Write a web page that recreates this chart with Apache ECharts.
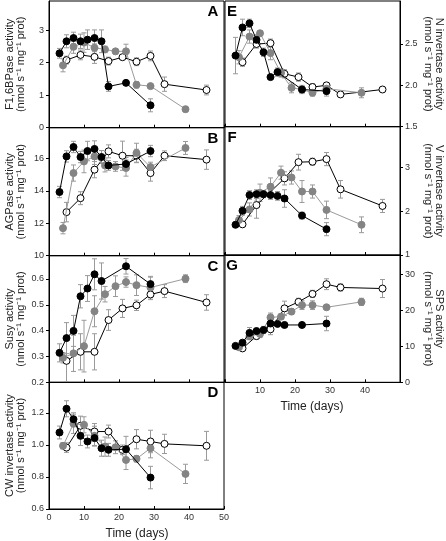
<!DOCTYPE html>
<html><head><meta charset="utf-8">
<script src="https://cdn.jsdelivr.net/npm/echarts@6/dist/echarts.min.js"></script>
<style>html,body{margin:0;padding:0;background:#fff}#c{width:446px;height:541px}</style>
</head><body><div id="c"></div>
<script>
// ---- sampling days ----
const daysBlack = [3, 5, 7, 9, 11, 13, 15, 17, 22, 29];
const daysBlackNo17 = [3, 5, 7, 9, 11, 13, 15, 22, 29];
const daysGray = [4, 7, 10, 13, 16, 19, 22, 25, 29, 39];
const daysWhite = [5, 9, 13, 17, 21, 25, 29, 33, 45];
const daysWhiteF = [5, 9, 17, 21, 25, 29, 33, 45];
// ---- axis ticks / tick labels ----
const xTicks = [0, 10, 20, 30, 40, 50];
const xLabelsBottomLeft = [0, 10, 20, 30, 40, 50];
const xLabelsBottomRight = [10, 20, 30, 40];
const aTicks = [0, 1, 2, 3];
const bTicks = [10, 12, 14, 16];
const cTicks = [0.2, 0.3, 0.4, 0.5, 0.6];
const dTicks = [0.6, 0.8, 1.0, 1.2];
const eTicks = [1.5, 2.0, 2.5];
const fTicks = [1, 2, 3];
const gTicks = [0, 10, 20, 30];

// ---- A: F1,6BPase ----
const aBlack = [2.29, 2.66, 2.76, 2.66, 2.71, 2.76, 2.66, 1.27, 1.38, 0.69];
const aBlackErr = [0.15, 0.2, 0.18, 0.22, 0.3, 0.25, 0.35, 0.15, 0.03, 0.2];
const aGray = [1.92, 2.49, 2.62, 2.46, 2.41, 2.35, 2.35, 1.32, 1.28, 0.57];
const aGrayErr = [0.2, 0.2, 0.3, 0.12, 0.1, 0.08, 0.22, 0.1, 0.05, 0.08];
const aWhite = [2.08, 2.24, 2.18, 2.05, 2.17, 2.03, 2.21, 1.34, 1.16];
const aWhiteErr = [0.12, 0.15, 0.2, 0.12, 0.05, 0.12, 0.15, 0.22, 0.15];
// ---- B: AGPase ----
const bBlack = [13.93, 16.13, 16.71, 16.09, 16.46, 16.59, 16.09, 15.57, 15.66, 16.46];
const bBlackErr = [0.35, 0.35, 0.35, 0.35, 0.6, 0.5, 0.4, 0.3, 0.4, 0.35];
const bGray = [11.70, 15.10, 15.82, 16.13, 15.57, 15.51, 15.41, 16.34, 15.47, 16.65];
const bGrayErr = [0.35, 0.5, 0.7, 0.5, 0.4, 0.3, 0.5, 0.6, 0.3, 0.4];
const bWhite = [12.69, 13.55, 15.31, 16.44, 16.17, 16.17, 15.10, 16.17, 15.93];
const bWhiteErr = [0.6, 0.4, 0.5, 0.4, 0.9, 0.4, 0.5, 0.3, 0.6];
// ---- C: Susy ----
const cBlack = [0.314, 0.371, 0.399, 0.533, 0.563, 0.618, 0.592, 0.649, 0.580];
const cBlackErr = [0.035, 0.06, 0.06, 0.045, 0.05, 0.06, 0.07, 0.03, 0.03];
const cGray = [0.295, 0.312, 0.340, 0.475, 0.541, 0.572, 0.588, 0.576, 0.567, 0.601];
const cGrayErr = [0.02, 0.07, 0.1, 0.06, 0.03, 0.04, 0.02, 0.04, 0.04, 0.015];
const cWhite = [0.283, 0.318, 0.318, 0.441, 0.486, 0.498, 0.540, 0.553, 0.509];
const cWhiteErr = [0.08, 0.07, 0.07, 0.04, 0.035, 0.02, 0.02, 0.025, 0.03];
// ---- D: CW invertase ----
const dBlack = [1.077, 1.225, 1.160, 1.056, 1.021, 1.042, 0.979, 0.969, 0.973, 0.796];
const dBlackErr = [0.04, 0.05, 0.04, 0.06, 0.04, 0.05, 0.05, 0.04, 0.08, 0.07];
const dGray = [0.994, 1.131, 1.125, 1.056, 0.989, 0.985, 0.906, 0.913, 0.979, 0.819];
const dGrayErr = [0.02, 0.06, 0.05, 0.06, 0.06, 0.04, 0.06, 0.02, 0.06, 0.06];
const dWhite = [0.983, 1.119, 1.083, 1.083, 0.969, 1.035, 1.021, 1.006, 0.994];
const dWhiteErr = [0.03, 0.06, 0.05, 0.04, 0.03, 0.06, 0.07, 0.06, 0.09];
// ---- E: N invertase ----
const eBlack = [2.36, 2.70, 2.75, 2.55, 2.40, 2.10, 2.16, 1.95, 1.93];
const eBlackErr = [0.22, 0.1, 0.05, 0.05, 0.05, 0.03, 0.05, 0.04, 0.06];
const eGray = [2.34, 2.59, 2.63, 2.39, 2.15, 1.97, 1.95, 1.91, 1.96, 1.91];
const eGrayErr = [0.08, 0.08, 0.03, 0.08, 0.05, 0.06, 0.05, 0.04, 0.04, 0.06];
const eWhite = [2.28, 2.50, 2.51, 2.14, 2.10, 1.98, 2.00, 1.89, 1.95];
const eWhiteErr = [0.05, 0.05, 0.05, 0.05, 0.05, 0.04, 0.03, 0.02, 0.02];
// ---- F: V invertase ----
const fBlack = [1.69, 2.01, 2.37, 2.39, 2.39, 2.37, 2.35, 2.29, 1.90, 1.59];
const fBlackErr = [0.06, 0.1, 0.1, 0.1, 0.08, 0.1, 0.1, 0.2, 0.08, 0.15];
const fGray = [1.80, 2.04, 2.42, 2.56, 2.88, 2.77, 2.45, 2.45, 2.03, 1.69];
const fGrayErr = [0.1, 0.15, 0.2, 0.2, 0.15, 0.15, 0.25, 0.15, 0.2, 0.18];
const fWhite = [1.70, 2.14, 2.75, 3.12, 3.13, 3.19, 2.50, 2.12];
const fWhiteErr = [0.05, 0.3, 0.15, 0.18, 0.08, 0.15, 0.2, 0.15];
// ---- G: SPS ----
const gBlack = [10.1, 11.0, 13.7, 14.2, 14.5, 16.3, 16.2, 15.9, 15.9, 16.3];
const gBlackErr = [0.3, 0.5, 1.5, 0.8, 1.0, 0.8, 0.5, 0.5, 0.5, 2.0];
const gGray = [9.7, 12.8, 13.4, 18.0, 18.2, 19.6, 21.4, 21.4, 20.8, 22.3];
const gGrayErr = [0.5, 1.0, 1.0, 1.2, 0.8, 0.8, 1.2, 1.2, 0.6, 1.0];
const gWhite = [9.4, 12.8, 14.7, 20.5, 22.3, 24.5, 27.2, 26.3, 26.0];
const gWhiteErr = [0.5, 0.8, 1.5, 2.0, 1.0, 1.0, 1.5, 1.0, 2.5];

// ---- layout ----
const L = 49, R = 225, W = 175;
const panels = [
  {k:'A', g:{left:L, top:1, height:126.7}, side:'left', y:[0, 3.9], ticks:aTicks, dec:0, xl:null,
   s:[[daysBlack,aBlack,aBlackErr],[daysGray,aGray,aGrayErr],[daysWhite,aWhite,aWhiteErr]],
   t1:'F1,6BPase activity'},
  {k:'B', g:{left:L, top:127.7, height:128}, side:'left', y:[10, 17.9], ticks:bTicks, dec:0, xl:null,
   s:[[daysBlack,bBlack,bBlackErr],[daysGray,bGray,bGrayErr],[daysWhite,bWhite,bWhiteErr]],
   t1:'AGPase activity'},
  {k:'C', g:{left:L, top:255.7, height:126.6}, side:'left', y:[0.2, 0.69], ticks:cTicks, dec:1, xl:null,
   s:[[daysBlackNo17,cBlack,cBlackErr],[daysGray,cGray,cGrayErr],[daysWhite,cWhite,cWhiteErr]],
   t1:'Susy activity'},
  {k:'D', g:{left:L, top:382.3, height:126.7}, side:'left', y:[0.6, 1.39], ticks:dTicks, dec:1, xl:xLabelsBottomLeft,
   s:[[daysBlack,dBlack,dBlackErr],[daysGray,dGray,dGrayErr],[daysWhite,dWhite,dWhiteErr]],
   t1:'CW invertase activity'},
  {k:'E', g:{left:R, top:1, height:125.7}, side:'right', y:[1.5, 3.02], ticks:eTicks, dec:1, xl:null,
   s:[[daysBlackNo17,eBlack,eBlackErr],[daysGray,eGray,eGrayErr],[daysWhite,eWhite,eWhiteErr]],
   t1:'N invertase activity'},
  {k:'F', g:{left:R, top:126.7, height:128.3}, side:'right', y:[1, 3.93], ticks:fTicks, dec:0, xl:null,
   s:[[daysBlack,fBlack,fBlackErr],[daysGray,fGray,fGrayErr],[daysWhiteF,fWhite,fWhiteErr]],
   t1:'V invertase activity'},
  {k:'G', g:{left:R, top:255, height:127.3}, side:'right', y:[0, 35.3], ticks:gTicks, dec:0, xl:xLabelsBottomRight,
   s:[[daysBlack,gBlack,gBlackErr],[daysGray,gGray,gGrayErr],[daysWhite,gWhite,gWhiteErr]],
   t1:'SPS activity'}
];
const unitText = '(nmol s\u207B\u00B9 mg\u207B\u00B9 prot)';
const FONT = 'Liberation Sans, Arial, sans-serif';
const GRAY = '#848484';
const styles = [
  {color:'#000', border:'#000', line:'#000'},
  {color:GRAY, border:GRAY, line:'#9a9a9a'},
  {color:'#fff', border:'#000', line:'#000'}
];

const grids = [], xAxes = [], yAxes = [], series = [], graphics = [];
panels.forEach((p, i) => {
  grids.push({left:p.g.left, top:p.g.top, width:W, height:p.g.height, show:true,
    borderColor:'#000', borderWidth:1, containLabel:false, outerBoundsMode:'none'});
  xAxes.push({gridIndex:i, type:'value', min:xTicks[0], max:xTicks[xTicks.length-1],
    axisLine:{show:true, onZero:false, lineStyle:{color:'#000', width:1}},
    axisTick:{show:true, inside:true, length:3, customValues:xTicks, lineStyle:{color:'#000'}},
    splitLine:{show:false},
    axisLabel:{show:!!p.xl, customValues:p.xl || xTicks,
      fontSize:9, color:'#333', margin:4, fontFamily:FONT}});
  yAxes.push({gridIndex:i, type:'value', position:p.side, min:p.y[0], max:p.y[1],
    axisLine:{show:true, onZero:false, lineStyle:{color:'#000', width:1}},
    axisTick:{show:true, inside:false, length:3, customValues:p.ticks, lineStyle:{color:'#000'}},
    splitLine:{show:false},
    axisLabel:{customValues:p.ticks, fontSize:9, color:'#333', margin:5, fontFamily:FONT,
      formatter: v => (+v).toFixed(p.dec)}});
  // error bars then lines; draw white, gray, black so black sits on top
  [2, 1, 0].forEach(j => {
    const [days, vals, errs] = p.s[j];
    series.push({type:'custom', xAxisIndex:i, yAxisIndex:i, silent:true, z:1,
      data: days.map((d, n) => [d, vals[n], errs[n]]),
      renderItem: (params, api) => {
        const x = api.value(0), y = api.value(1), e = api.value(2);
        const lo = api.coord([x, y - e]), hi = api.coord([x, y + e]);
        const st = {stroke:'#9a9a9a', lineWidth:1};
        return {type:'group', children:[
          {type:'line', shape:{x1:lo[0], y1:lo[1], x2:hi[0], y2:hi[1]}, style:st},
          {type:'line', shape:{x1:lo[0]-2.5, y1:lo[1], x2:lo[0]+2.5, y2:lo[1]}, style:st},
          {type:'line', shape:{x1:hi[0]-2.5, y1:hi[1], x2:hi[0]+2.5, y2:hi[1]}, style:st}
        ]};
      }});
  });
  [2, 1, 0].forEach(j => {
    const [days, vals] = p.s[j];
    const st = styles[j];
    series.push({type:'line', xAxisIndex:i, yAxisIndex:i, z:3 + (2 - j),
      data: days.map((d, n) => [d, vals[n]]),
      symbol:'circle', symbolSize:7, showSymbol:true, silent:true,
      lineStyle:{color:st.line, width:1},
      itemStyle:{color:st.color, borderColor:st.border, borderWidth:1},
      emphasis:{disabled:true}});
  });
  // panel letter
  const isLeft = p.side === 'left';
  graphics.push({type:'text', x: isLeft ? 213 : 232, y: p.g.top + 11,
    style:{text:p.k, font:'bold 15px ' + FONT, fill:'#000', textAlign:'center', textVerticalAlign:'middle'}});
  // axis names
  const cy = p.g.top + p.g.height / 2;
  if (isLeft) {
    graphics.push({type:'text', x:10, y:cy, rotation:Math.PI/2,
      style:{text:p.t1, font:'11px ' + FONT, fill:'#222', textAlign:'center', textVerticalAlign:'middle'}});
    graphics.push({type:'text', x:21, y:cy, rotation:Math.PI/2,
      style:{text:unitText, font:'11px ' + FONT, fill:'#222', textAlign:'center', textVerticalAlign:'middle'}});
  } else {
    graphics.push({type:'text', x:439, y:cy, rotation:-Math.PI/2,
      style:{text:p.t1, font:'11px ' + FONT, fill:'#222', textAlign:'center', textVerticalAlign:'middle'}});
    graphics.push({type:'text', x:428, y:cy, rotation:-Math.PI/2,
      style:{text:unitText, font:'11px ' + FONT, fill:'#222', textAlign:'center', textVerticalAlign:'middle'}});
  }
});
graphics.push({type:'text', x:137, y:534, style:{text:'Time (days)', font:'12px ' + FONT, fill:'#222', textAlign:'center', textVerticalAlign:'middle'}});
graphics.push({type:'text', x:312, y:407, style:{text:'Time (days)', font:'12px ' + FONT, fill:'#222', textAlign:'center', textVerticalAlign:'middle'}});

const chart = echarts.init(document.getElementById('c'), null, {renderer:'canvas'});
chart.setOption({animation:false, backgroundColor:'#fff', grid:grids, xAxis:xAxes, yAxis:yAxes, series:series, graphic:graphics});
</script></body></html>
